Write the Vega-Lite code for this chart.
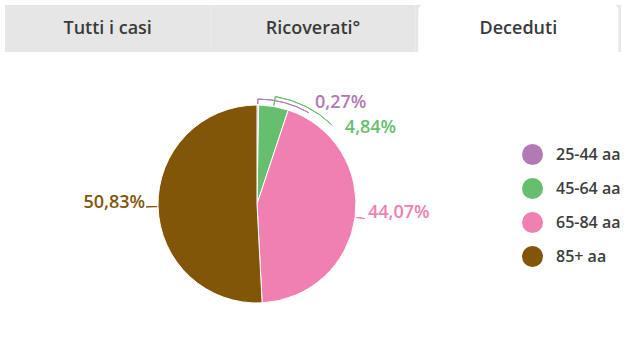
{
  "$schema": "https://vega.github.io/schema/vega-lite/v6.json",
  "background": "white",
  "padding": {"left": 5, "top": 5, "right": 5, "bottom": 0},
  "spacing": 20,
  "config": {
    "view": {"stroke": null},
    "font": "Open Sans",
    "legend": {
      "labelFont": "Open Sans",
      "labelFontSize": 16,
      "labelFontWeight": 600,
      "labelColor": "#3d3d3d",
      "symbolType": "circle",
      "symbolSize": 441,
      "symbolStrokeWidth": 0,
      "rowPadding": 13,
      "labelOffset": 13,
      "padding": 0
    }
  },
  "datasets": {
    "tabs": [
      {"tab": "Tutti i casi", "active": false},
      {"tab": "Ricoverati°", "active": false},
      {"tab": "Deceduti", "active": true}
    ],
    "eta": [
      {"cat": "25-44 aa", "value": 0.27, "label": "0,27%"},
      {"cat": "45-64 aa", "value": 4.84, "label": "4,84%"},
      {"cat": "65-84 aa", "value": 44.07, "label": "44,07%"},
      {"cat": "85+ aa", "value": 50.83, "label": "50,83%"}
    ]
  },
  "vconcat": [
    {
      "width": 616,
      "height": 47,
      "data": {"name": "tabs"},
      "encoding": {
        "x": {"field": "tab", "type": "nominal", "sort": null, "axis": null, "scale": {"paddingInner": 0, "paddingOuter": 0}}
      },
      "layer": [
        {"mark": {"type": "rect", "color": "#e6e6e6"}},
        {
          "transform": [{"filter": "datum.active"}],
          "mark": {"type": "rect", "color": "white", "cornerRadiusTopLeft": 5, "cornerRadiusTopRight": 5, "width": {"band": 0.975}}
        },
        {
          "mark": {"type": "text", "fontSize": 18, "fontWeight": 600, "color": "#3a3a3a"},
          "encoding": {"text": {"field": "tab", "type": "nominal"}}
        }
      ]
    },
    {
      "width": 504,
      "height": 264,
      "data": {"name": "eta"},
      "layer": [
        {
          "mark": {"type": "arc", "outerRadius": 99, "stroke": "white", "strokeWidth": 1},
          "encoding": {
            "theta": {"field": "value", "type": "quantitative", "stack": true},
            "order": {"field": "cat", "type": "ordinal", "sort": "ascending"},
            "color": {
              "field": "cat",
              "type": "nominal",
              "scale": {"domain": ["25-44 aa", "45-64 aa", "65-84 aa", "85+ aa"], "range": ["#b27ab5", "#66bf6f", "#f080b1", "#825609"]},
              "legend": {"orient": "none", "legendX": 517, "legendY": 139, "title": null}
            }
          }
        },
        {
          "transform": [
            {"stack": "value", "groupby": [], "sort": [{"field": "cat", "order": "ascending"}], "as": ["v0", "v1"]},
            {"filter": "datum.cat === '85+ aa'"}
          ],
          "mark": {"type": "arc", "radius": 111, "radius2": 100, "thetaOffset": -1.5967, "theta2Offset": -1.5967, "fill": "transparent", "stroke": "#825609", "strokeWidth": 1},
          "encoding": {"theta": {"field": "v1", "type": "quantitative"}, "theta2": {"field": "v1"}}
        },
        {
          "transform": [
            {"stack": "value", "groupby": [], "sort": [{"field": "cat", "order": "ascending"}], "as": ["v0", "v1"]},
            {"filter": "datum.cat === '65-84 aa'"}
          ],
          "mark": {"type": "arc", "radius": 109, "radius2": 100, "thetaOffset": -1.3844, "theta2Offset": -1.3844, "fill": "transparent", "stroke": "#f080b1", "strokeWidth": 1},
          "encoding": {"theta": {"field": "v1", "type": "quantitative"}, "theta2": {"field": "v1"}}
        },
        {
          "transform": [
            {"stack": "value", "groupby": [], "sort": [{"field": "cat", "order": "ascending"}], "as": ["v0", "v1"]},
            {"filter": "datum.cat === '25-44 aa'"}
          ],
          "mark": {"type": "arc", "radius": 105, "radius2": 100, "thetaOffset": -0.0085, "theta2Offset": -0.0085, "fill": "transparent", "stroke": "#b27ab5", "strokeWidth": 1},
          "encoding": {"theta": {"field": "v1", "type": "quantitative"}, "theta2": {"field": "v1"}}
        },
        {
          "transform": [
            {"stack": "value", "groupby": [], "sort": [{"field": "cat", "order": "ascending"}], "as": ["v0", "v1"]},
            {"filter": "datum.cat === '25-44 aa'"}
          ],
          "mark": {"type": "arc", "radius": 105, "radius2": 105, "thetaOffset": 0.0085, "theta2Offset": 0.5, "fill": "transparent", "stroke": "#b27ab5", "strokeWidth": 1},
          "encoding": {"theta": {"field": "v0", "type": "quantitative"}, "theta2": {"field": "v1"}}
        },
        {
          "transform": [
            {"stack": "value", "groupby": [], "sort": [{"field": "cat", "order": "ascending"}], "as": ["v0", "v1"]},
            {"filter": "datum.cat === '45-64 aa'"}
          ],
          "mark": {"type": "arc", "radius": 109, "radius2": 100, "thetaOffset": -0.152, "theta2Offset": -0.152, "fill": "transparent", "stroke": "#66bf6f", "strokeWidth": 1},
          "encoding": {"theta": {"field": "v1", "type": "quantitative"}, "theta2": {"field": "v1"}}
        },
        {
          "transform": [
            {"stack": "value", "groupby": [], "sort": [{"field": "cat", "order": "ascending"}], "as": ["v0", "v1"]},
            {"filter": "datum.cat === '45-64 aa'"}
          ],
          "mark": {"type": "arc", "radius": 109, "radius2": 109, "thetaOffset": 0.152, "theta2Offset": 0.44, "fill": "transparent", "stroke": "#66bf6f", "strokeWidth": 1},
          "encoding": {"theta": {"field": "v0", "type": "quantitative"}, "theta2": {"field": "v1"}}
        },
        {
          "mark": {"type": "text", "radius": 112, "align": "right", "baseline": "middle", "dy": -4, "fontSize": 18, "fontWeight": 600, "color": "#825609"},
          "encoding": {
            "theta": {"field": "value", "type": "quantitative", "stack": true},
            "order": {"field": "cat", "type": "ordinal", "sort": "ascending"},
            "text": {"condition": {"test": "datum.cat === '85+ aa'", "field": "label", "type": "nominal"}, "value": ""}
          }
        },
        {
          "mark": {"type": "text", "radius": 112, "align": "left", "baseline": "middle", "dy": -6, "fontSize": 18, "fontWeight": 600, "color": "#f080b1"},
          "encoding": {
            "theta": {"field": "value", "type": "quantitative", "stack": true},
            "order": {"field": "cat", "type": "ordinal", "sort": "ascending"},
            "text": {"condition": {"test": "datum.cat === '65-84 aa'", "field": "label", "type": "nominal"}, "value": ""}
          }
        },
        {
          "mark": {"type": "text", "radius": 112, "align": "left", "baseline": "middle", "dx": 57, "dy": 11, "fontSize": 18, "fontWeight": 600, "color": "#b27ab5"},
          "encoding": {
            "theta": {"field": "value", "type": "quantitative", "stack": true},
            "order": {"field": "cat", "type": "ordinal", "sort": "ascending"},
            "text": {"condition": {"test": "datum.cat === '25-44 aa'", "field": "label", "type": "nominal"}, "value": ""}
          }
        },
        {
          "mark": {"type": "text", "radius": 112, "align": "left", "baseline": "middle", "dx": 69, "dy": 34, "fontSize": 18, "fontWeight": 600, "color": "#66bf6f"},
          "encoding": {
            "theta": {"field": "value", "type": "quantitative", "stack": true},
            "order": {"field": "cat", "type": "ordinal", "sort": "ascending"},
            "text": {"condition": {"test": "datum.cat === '45-64 aa'", "field": "label", "type": "nominal"}, "value": ""}
          }
        }
      ]
    }
  ]
}
